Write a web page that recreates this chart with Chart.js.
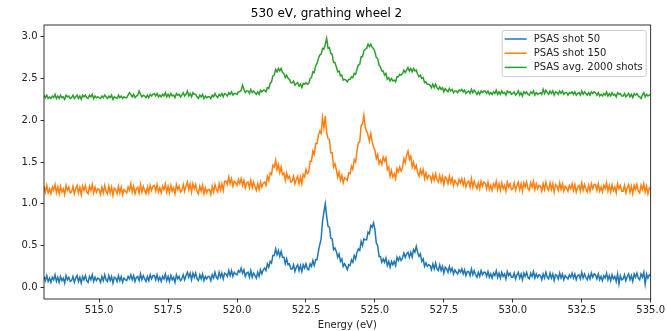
<!DOCTYPE html>
<html>
<head>
<meta charset="utf-8">
<script src="https://cdn.jsdelivr.net/npm/chart.js@4/dist/chart.umd.min.js"></script>
<style>
  body { margin: 0; background: #fff; }
  canvas { display: block; }
</style>
</head>
<body>
<canvas id="spectra" width="667" height="331"></canvas>
<script>
// energy axis (eV), 0.05 eV steps
const energy = [
  513.00, 513.05, 513.10, 513.15, 513.20, 513.25, 513.30, 513.35, 513.40, 513.45, 513.50, 513.55, 513.60, 513.65, 513.70, 513.75, 513.80, 513.85, 513.90, 513.95,
  514.00, 514.05, 514.10, 514.15, 514.20, 514.25, 514.30, 514.35, 514.40, 514.45, 514.50, 514.55, 514.60, 514.65, 514.70, 514.75, 514.80, 514.85, 514.90, 514.95,
  515.00, 515.05, 515.10, 515.15, 515.20, 515.25, 515.30, 515.35, 515.40, 515.45, 515.50, 515.55, 515.60, 515.65, 515.70, 515.75, 515.80, 515.85, 515.90, 515.95,
  516.00, 516.05, 516.10, 516.15, 516.20, 516.25, 516.30, 516.35, 516.40, 516.45, 516.50, 516.55, 516.60, 516.65, 516.70, 516.75, 516.80, 516.85, 516.90, 516.95,
  517.00, 517.05, 517.10, 517.15, 517.20, 517.25, 517.30, 517.35, 517.40, 517.45, 517.50, 517.55, 517.60, 517.65, 517.70, 517.75, 517.80, 517.85, 517.90, 517.95,
  518.00, 518.05, 518.10, 518.15, 518.20, 518.25, 518.30, 518.35, 518.40, 518.45, 518.50, 518.55, 518.60, 518.65, 518.70, 518.75, 518.80, 518.85, 518.90, 518.95,
  519.00, 519.05, 519.10, 519.15, 519.20, 519.25, 519.30, 519.35, 519.40, 519.45, 519.50, 519.55, 519.60, 519.65, 519.70, 519.75, 519.80, 519.85, 519.90, 519.95,
  520.00, 520.05, 520.10, 520.15, 520.20, 520.25, 520.30, 520.35, 520.40, 520.45, 520.50, 520.55, 520.60, 520.65, 520.70, 520.75, 520.80, 520.85, 520.90, 520.95,
  521.00, 521.05, 521.10, 521.15, 521.20, 521.25, 521.30, 521.35, 521.40, 521.45, 521.50, 521.55, 521.60, 521.65, 521.70, 521.75, 521.80, 521.85, 521.90, 521.95,
  522.00, 522.05, 522.10, 522.15, 522.20, 522.25, 522.30, 522.35, 522.40, 522.45, 522.50, 522.55, 522.60, 522.65, 522.70, 522.75, 522.80, 522.85, 522.90, 522.95,
  523.00, 523.05, 523.10, 523.15, 523.20, 523.25, 523.30, 523.35, 523.40, 523.45, 523.50, 523.55, 523.60, 523.65, 523.70, 523.75, 523.80, 523.85, 523.90, 523.95,
  524.00, 524.05, 524.10, 524.15, 524.20, 524.25, 524.30, 524.35, 524.40, 524.45, 524.50, 524.55, 524.60, 524.65, 524.70, 524.75, 524.80, 524.85, 524.90, 524.95,
  525.00, 525.05, 525.10, 525.15, 525.20, 525.25, 525.30, 525.35, 525.40, 525.45, 525.50, 525.55, 525.60, 525.65, 525.70, 525.75, 525.80, 525.85, 525.90, 525.95,
  526.00, 526.05, 526.10, 526.15, 526.20, 526.25, 526.30, 526.35, 526.40, 526.45, 526.50, 526.55, 526.60, 526.65, 526.70, 526.75, 526.80, 526.85, 526.90, 526.95,
  527.00, 527.05, 527.10, 527.15, 527.20, 527.25, 527.30, 527.35, 527.40, 527.45, 527.50, 527.55, 527.60, 527.65, 527.70, 527.75, 527.80, 527.85, 527.90, 527.95,
  528.00, 528.05, 528.10, 528.15, 528.20, 528.25, 528.30, 528.35, 528.40, 528.45, 528.50, 528.55, 528.60, 528.65, 528.70, 528.75, 528.80, 528.85, 528.90, 528.95,
  529.00, 529.05, 529.10, 529.15, 529.20, 529.25, 529.30, 529.35, 529.40, 529.45, 529.50, 529.55, 529.60, 529.65, 529.70, 529.75, 529.80, 529.85, 529.90, 529.95,
  530.00, 530.05, 530.10, 530.15, 530.20, 530.25, 530.30, 530.35, 530.40, 530.45, 530.50, 530.55, 530.60, 530.65, 530.70, 530.75, 530.80, 530.85, 530.90, 530.95,
  531.00, 531.05, 531.10, 531.15, 531.20, 531.25, 531.30, 531.35, 531.40, 531.45, 531.50, 531.55, 531.60, 531.65, 531.70, 531.75, 531.80, 531.85, 531.90, 531.95,
  532.00, 532.05, 532.10, 532.15, 532.20, 532.25, 532.30, 532.35, 532.40, 532.45, 532.50, 532.55, 532.60, 532.65, 532.70, 532.75, 532.80, 532.85, 532.90, 532.95,
  533.00, 533.05, 533.10, 533.15, 533.20, 533.25, 533.30, 533.35, 533.40, 533.45, 533.50, 533.55, 533.60, 533.65, 533.70, 533.75, 533.80, 533.85, 533.90, 533.95,
  534.00, 534.05, 534.10, 534.15, 534.20, 534.25, 534.30, 534.35, 534.40, 534.45, 534.50, 534.55, 534.60, 534.65, 534.70, 534.75, 534.80, 534.85, 534.90, 534.95,
  535.00
];

// single shot 50
const shot50 = [
  0.13, 0.08, 0.14, 0.07, 0.11, 0.06, 0.12, 0.09, 0.15, 0.07, 0.12, 0.06, 0.13, 0.08, 0.11, 0.05, 0.14, 0.09, 0.12, 0.07,
  0.08, 0.13, 0.06, 0.11, 0.14, 0.07, 0.12, 0.05, 0.13, 0.09, 0.14, 0.08, 0.06, 0.13, 0.09, 0.15, 0.07, 0.12, 0.08, 0.11,
  0.10, 0.06, 0.13, 0.08, 0.15, 0.09, 0.07, 0.14, 0.08, 0.13, 0.05, 0.12, 0.11, 0.07, 0.14, 0.08, 0.13, 0.06, 0.11, 0.09,
  0.08, 0.13, 0.10, 0.15, 0.09, 0.14, 0.07, 0.12, 0.13, 0.08, 0.16, 0.09, 0.14, 0.10, 0.07, 0.13, 0.08, 0.15, 0.10, 0.14,
  0.14, 0.09, 0.15, 0.08, 0.12, 0.07, 0.13, 0.10, 0.16, 0.08, 0.13, 0.07, 0.14, 0.09, 0.12, 0.06, 0.15, 0.10, 0.13, 0.08,
  0.10, 0.15, 0.09, 0.14, 0.18, 0.12, 0.17, 0.09, 0.17, 0.12, 0.17, 0.10, 0.08, 0.15, 0.10, 0.16, 0.08, 0.13, 0.10, 0.13,
  0.13, 0.08, 0.15, 0.11, 0.18, 0.12, 0.10, 0.18, 0.12, 0.17, 0.10, 0.17, 0.16, 0.13, 0.20, 0.14, 0.20, 0.13, 0.18, 0.16,
  0.15, 0.20, 0.18, 0.23, 0.17, 0.21, 0.13, 0.17, 0.18, 0.12, 0.20, 0.12, 0.17, 0.14, 0.11, 0.18, 0.13, 0.21, 0.16, 0.21,
  0.23, 0.20, 0.28, 0.24, 0.31, 0.29, 0.38, 0.38, 0.46, 0.39, 0.44, 0.37, 0.43, 0.36, 0.36, 0.28, 0.34, 0.27, 0.28, 0.22,
  0.22, 0.27, 0.19, 0.24, 0.27, 0.20, 0.26, 0.19, 0.27, 0.23, 0.28, 0.22, 0.21, 0.28, 0.25, 0.32, 0.26, 0.33, 0.33, 0.43,
  0.51, 0.58, 0.79, 0.90, 1.00, 0.85, 0.73, 0.72, 0.59, 0.58, 0.45, 0.47, 0.43, 0.36, 0.40, 0.31, 0.34, 0.25, 0.28, 0.25,
  0.21, 0.27, 0.26, 0.33, 0.30, 0.38, 0.34, 0.42, 0.46, 0.44, 0.55, 0.50, 0.58, 0.57, 0.57, 0.66, 0.64, 0.74, 0.72, 0.77,
  0.69, 0.53, 0.50, 0.37, 0.37, 0.30, 0.34, 0.30, 0.35, 0.26, 0.31, 0.24, 0.31, 0.27, 0.31, 0.26, 0.36, 0.32, 0.36, 0.32,
  0.35, 0.41, 0.36, 0.40, 0.42, 0.36, 0.42, 0.36, 0.45, 0.42, 0.49, 0.42, 0.37, 0.40, 0.31, 0.34, 0.25, 0.29, 0.25, 0.27,
  0.26, 0.21, 0.28, 0.22, 0.29, 0.22, 0.20, 0.27, 0.20, 0.25, 0.17, 0.24, 0.22, 0.18, 0.25, 0.19, 0.23, 0.16, 0.21, 0.18,
  0.16, 0.21, 0.18, 0.22, 0.16, 0.21, 0.14, 0.19, 0.19, 0.14, 0.22, 0.15, 0.20, 0.15, 0.12, 0.18, 0.13, 0.20, 0.15, 0.18,
  0.18, 0.13, 0.19, 0.12, 0.16, 0.11, 0.17, 0.14, 0.20, 0.12, 0.17, 0.11, 0.18, 0.13, 0.16, 0.10, 0.19, 0.14, 0.17, 0.12,
  0.12, 0.17, 0.10, 0.15, 0.18, 0.11, 0.16, 0.09, 0.17, 0.13, 0.18, 0.12, 0.10, 0.17, 0.13, 0.19, 0.11, 0.16, 0.12, 0.15,
  0.14, 0.09, 0.16, 0.11, 0.18, 0.12, 0.10, 0.17, 0.11, 0.16, 0.08, 0.15, 0.14, 0.10, 0.17, 0.11, 0.16, 0.09, 0.14, 0.12,
  0.10, 0.15, 0.12, 0.17, 0.11, 0.16, 0.09, 0.14, 0.15, 0.10, 0.18, 0.11, 0.16, 0.12, 0.09, 0.15, 0.10, 0.17, 0.12, 0.16,
  0.15, 0.10, 0.16, 0.09, 0.13, 0.08, 0.14, 0.11, 0.17, 0.09, 0.14, 0.08, 0.15, 0.10, 0.13, 0.07, 0.16, 0.04, 0.14, 0.09,
  0.10, 0.15, 0.08, 0.13, 0.16, 0.09, 0.14, 0.07, 0.16, 0.12, 0.17, 0.11, 0.09, 0.16, 0.12, 0.18, 0.04, 0.16, 0.11, 0.15,
  0.14
];

// single shot 150
const shot150 = [
  1.21, 1.14, 1.22, 1.13, 1.18, 1.12, 1.20, 1.16, 1.23, 1.13, 1.20, 1.12, 1.21, 1.14, 1.18, 1.11, 1.22, 1.16, 1.20, 1.13,
  1.14, 1.21, 1.12, 1.18, 1.22, 1.13, 1.20, 1.11, 1.21, 1.16, 1.22, 1.14, 1.12, 1.21, 1.16, 1.23, 1.13, 1.20, 1.14, 1.18,
  1.17, 1.11, 1.20, 1.13, 1.22, 1.15, 1.12, 1.21, 1.13, 1.20, 1.10, 1.19, 1.17, 1.12, 1.21, 1.13, 1.20, 1.11, 1.17, 1.15,
  1.13, 1.20, 1.16, 1.24, 1.14, 1.21, 1.12, 1.18, 1.20, 1.13, 1.23, 1.14, 1.21, 1.16, 1.12, 1.20, 1.13, 1.22, 1.16, 1.21,
  1.22, 1.15, 1.23, 1.14, 1.19, 1.13, 1.21, 1.17, 1.24, 1.14, 1.21, 1.13, 1.22, 1.15, 1.19, 1.12, 1.23, 1.17, 1.21, 1.14,
  1.16, 1.23, 1.15, 1.21, 1.26, 1.17, 1.24, 1.14, 1.24, 1.18, 1.23, 1.15, 1.12, 1.21, 1.15, 1.22, 1.12, 1.19, 1.13, 1.17,
  1.17, 1.11, 1.21, 1.14, 1.23, 1.17, 1.14, 1.24, 1.16, 1.24, 1.16, 1.27, 1.27, 1.23, 1.32, 1.24, 1.30, 1.21, 1.27, 1.25,
  1.22, 1.29, 1.24, 1.30, 1.22, 1.28, 1.19, 1.25, 1.26, 1.19, 1.28, 1.19, 1.26, 1.21, 1.16, 1.24, 1.17, 1.26, 1.20, 1.25,
  1.26, 1.22, 1.33, 1.28, 1.37, 1.35, 1.46, 1.44, 1.52, 1.41, 1.47, 1.37, 1.44, 1.35, 1.37, 1.28, 1.37, 1.30, 1.33, 1.26,
  1.27, 1.33, 1.24, 1.29, 1.33, 1.24, 1.32, 1.24, 1.35, 1.32, 1.41, 1.36, 1.38, 1.51, 1.51, 1.63, 1.59, 1.72, 1.72, 1.82,
  1.87, 1.84, 2.03, 1.91, 2.05, 1.85, 1.78, 1.77, 1.61, 1.61, 1.44, 1.48, 1.41, 1.32, 1.38, 1.28, 1.34, 1.25, 1.31, 1.30,
  1.28, 1.37, 1.36, 1.45, 1.41, 1.53, 1.50, 1.63, 1.73, 1.74, 1.94, 1.95, 2.06, 1.91, 1.87, 1.82, 1.75, 1.84, 1.74, 1.68,
  1.64, 1.54, 1.59, 1.48, 1.52, 1.47, 1.56, 1.51, 1.55, 1.41, 1.44, 1.33, 1.40, 1.32, 1.36, 1.30, 1.42, 1.38, 1.44, 1.39,
  1.43, 1.54, 1.49, 1.58, 1.63, 1.53, 1.57, 1.44, 1.50, 1.42, 1.46, 1.37, 1.33, 1.41, 1.35, 1.41, 1.30, 1.37, 1.30, 1.34,
  1.33, 1.27, 1.35, 1.28, 1.36, 1.29, 1.26, 1.34, 1.26, 1.33, 1.23, 1.32, 1.30, 1.24, 1.33, 1.25, 1.31, 1.22, 1.28, 1.25,
  1.22, 1.29, 1.25, 1.30, 1.22, 1.29, 1.20, 1.25, 1.27, 1.20, 1.30, 1.20, 1.27, 1.22, 1.18, 1.25, 1.18, 1.27, 1.21, 1.26,
  1.25, 1.18, 1.26, 1.17, 1.22, 1.16, 1.24, 1.20, 1.27, 1.17, 1.24, 1.16, 1.25, 1.18, 1.22, 1.15, 1.26, 1.20, 1.24, 1.17,
  1.18, 1.25, 1.16, 1.22, 1.26, 1.17, 1.24, 1.15, 1.25, 1.20, 1.26, 1.18, 1.16, 1.25, 1.20, 1.27, 1.17, 1.24, 1.18, 1.22,
  1.21, 1.15, 1.24, 1.17, 1.26, 1.19, 1.16, 1.25, 1.17, 1.24, 1.14, 1.23, 1.21, 1.16, 1.25, 1.17, 1.24, 1.15, 1.21, 1.19,
  1.15, 1.22, 1.18, 1.24, 1.16, 1.23, 1.14, 1.20, 1.22, 1.15, 1.25, 1.16, 1.23, 1.18, 1.14, 1.22, 1.15, 1.24, 1.18, 1.23,
  1.23, 1.16, 1.24, 1.15, 1.20, 1.14, 1.22, 1.18, 1.25, 1.15, 1.22, 1.14, 1.23, 1.16, 1.20, 1.13, 1.24, 1.18, 1.22, 1.15,
  1.15, 1.22, 1.13, 1.19, 1.23, 1.14, 1.21, 1.12, 1.22, 1.17, 1.23, 1.15, 1.13, 1.22, 1.17, 1.24, 1.14, 1.21, 1.12, 1.19,
  1.17
];

// average over 2000 shots
const avg2000 = [
  2.30, 2.27, 2.30, 2.26, 2.28, 2.26, 2.29, 2.27, 2.31, 2.26, 2.29, 2.26, 2.30, 2.27, 2.28, 2.25, 2.30, 2.28, 2.29, 2.26,
  2.27, 2.30, 2.26, 2.28, 2.30, 2.26, 2.29, 2.25, 2.30, 2.28, 2.30, 2.27, 2.26, 2.30, 2.28, 2.31, 2.26, 2.29, 2.27, 2.28,
  2.27, 2.26, 2.29, 2.27, 2.30, 2.28, 2.26, 2.29, 2.27, 2.30, 2.25, 2.28, 2.27, 2.26, 2.30, 2.27, 2.29, 2.26, 2.28, 2.27,
  2.27, 2.30, 2.33, 2.31, 2.28, 2.31, 2.27, 2.29, 2.30, 2.35, 2.31, 2.28, 2.30, 2.29, 2.27, 2.30, 2.27, 2.31, 2.29, 2.31,
  2.32, 2.29, 2.32, 2.28, 2.30, 2.28, 2.31, 2.29, 2.33, 2.28, 2.31, 2.28, 2.32, 2.29, 2.30, 2.27, 2.32, 2.30, 2.31, 2.28,
  2.30, 2.33, 2.29, 2.31, 2.35, 2.29, 2.32, 2.28, 2.33, 2.31, 2.31, 2.28, 2.26, 2.30, 2.28, 2.31, 2.26, 2.29, 2.27, 2.28,
  2.28, 2.26, 2.30, 2.28, 2.32, 2.29, 2.27, 2.31, 2.29, 2.32, 2.28, 2.32, 2.31, 2.29, 2.33, 2.31, 2.34, 2.30, 2.32, 2.32,
  2.31, 2.34, 2.34, 2.36, 2.42, 2.37, 2.33, 2.35, 2.35, 2.32, 2.37, 2.33, 2.35, 2.33, 2.31, 2.34, 2.31, 2.36, 2.34, 2.36,
  2.36, 2.34, 2.39, 2.38, 2.44, 2.46, 2.53, 2.54, 2.61, 2.58, 2.62, 2.59, 2.62, 2.57, 2.56, 2.51, 2.54, 2.50, 2.49, 2.45,
  2.45, 2.47, 2.42, 2.44, 2.45, 2.41, 2.43, 2.39, 2.44, 2.43, 2.45, 2.43, 2.44, 2.50, 2.51, 2.58, 2.57, 2.65, 2.68, 2.74,
  2.78, 2.79, 2.86, 2.85, 2.91, 2.98, 2.86, 2.87, 2.80, 2.79, 2.69, 2.69, 2.64, 2.58, 2.59, 2.53, 2.54, 2.48, 2.49, 2.48,
  2.46, 2.49, 2.49, 2.52, 2.51, 2.56, 2.55, 2.61, 2.66, 2.67, 2.76, 2.76, 2.83, 2.85, 2.86, 2.91, 2.88, 2.91, 2.87, 2.86,
  2.82, 2.75, 2.74, 2.66, 2.64, 2.59, 2.59, 2.54, 2.56, 2.49, 2.51, 2.47, 2.50, 2.47, 2.48, 2.46, 2.52, 2.52, 2.55, 2.54,
  2.56, 2.60, 2.57, 2.60, 2.63, 2.59, 2.62, 2.58, 2.62, 2.59, 2.60, 2.55, 2.52, 2.54, 2.50, 2.51, 2.45, 2.46, 2.43, 2.43,
  2.42, 2.39, 2.43, 2.39, 2.43, 2.39, 2.37, 2.40, 2.37, 2.39, 2.34, 2.38, 2.36, 2.34, 2.38, 2.35, 2.37, 2.33, 2.35, 2.35,
  2.33, 2.36, 2.35, 2.37, 2.34, 2.36, 2.32, 2.34, 2.35, 2.32, 2.37, 2.33, 2.36, 2.34, 2.31, 2.34, 2.31, 2.35, 2.33, 2.35,
  2.35, 2.32, 2.35, 2.31, 2.33, 2.31, 2.34, 2.32, 2.36, 2.31, 2.34, 2.31, 2.35, 2.32, 2.33, 2.30, 2.35, 2.33, 2.34, 2.31,
  2.32, 2.34, 2.30, 2.32, 2.35, 2.30, 2.33, 2.29, 2.34, 2.32, 2.34, 2.31, 2.30, 2.34, 2.32, 2.35, 2.30, 2.33, 2.31, 2.32,
  2.33, 2.31, 2.37, 2.32, 2.36, 2.33, 2.31, 2.35, 2.32, 2.35, 2.30, 2.34, 2.33, 2.31, 2.35, 2.32, 2.35, 2.31, 2.33, 2.33,
  2.30, 2.33, 2.32, 2.34, 2.31, 2.34, 2.30, 2.32, 2.33, 2.30, 2.35, 2.31, 2.34, 2.32, 2.30, 2.33, 2.30, 2.34, 2.32, 2.34,
  2.33, 2.30, 2.33, 2.29, 2.31, 2.29, 2.32, 2.30, 2.34, 2.29, 2.32, 2.29, 2.33, 2.30, 2.31, 2.28, 2.33, 2.31, 2.32, 2.29,
  2.29, 2.32, 2.28, 2.30, 2.32, 2.28, 2.31, 2.27, 2.32, 2.30, 2.32, 2.29, 2.28, 2.26, 2.30, 2.33, 2.28, 2.31, 2.29, 2.30,
  2.31
];

const seriesNames = ['PSAS shot 50', 'PSAS shot 150', 'PSAS avg. 2000 shots'];
const seriesColors = ['#1f77b4', '#ff7f0e', '#2ca02c'];

const FONT = "'DejaVu Sans', sans-serif";

// box around the plot + legend in the upper right corner
const framePlugin = {
  id: 'frame',
  afterDraw(chart) {
    const { ctx, chartArea: a } = chart;
    ctx.save();
    ctx.strokeStyle = '#000';
    ctx.lineWidth = 0.8;
    ctx.strokeRect(a.left, a.top, a.right - a.left, a.bottom - a.top);

    const boxW = 144, boxH = 46;
    const bx = a.right - 5 - boxW, by = a.top + 5;
    ctx.fillStyle = 'rgba(255,255,255,0.8)';
    ctx.strokeStyle = '#cccccc';
    ctx.lineWidth = 1;
    ctx.beginPath();
    ctx.roundRect(bx + 0.5, by + 0.5, boxW, boxH, 2);
    ctx.fill();
    ctx.stroke();

    ctx.font = '10px ' + FONT;
    ctx.textBaseline = 'middle';
    ctx.textAlign = 'left';
    chart.data.datasets.forEach((ds, i) => {
      const y = by + 9 + i * 14.2;
      ctx.strokeStyle = ds.borderColor;
      ctx.lineWidth = 1.5;
      ctx.beginPath();
      ctx.moveTo(bx + 3, y);
      ctx.lineTo(bx + 25, y);
      ctx.stroke();
      ctx.fillStyle = '#222';
      ctx.fillText(ds.label, bx + 32, y);
    });
    ctx.restore();
  }
};

const datasets = [shot50, shot150, avg2000].map((vals, i) => ({
  label: seriesNames[i],
  data: vals,
  borderColor: seriesColors[i],
  backgroundColor: seriesColors[i],
  borderWidth: 1.5,
  pointRadius: 0,
  tension: 0,
  fill: false
}));

new Chart(document.getElementById('spectra'), {
  type: 'line',
  data: { labels: energy, datasets },
  plugins: [framePlugin],
  options: {
    responsive: false,
    animation: false,
    events: [],
    layout: { padding: { left: 0, right: 14, top: 0, bottom: 0 } },
    plugins: {
      legend: { display: false },
      tooltip: { enabled: false },
      title: {
        display: true,
        text: '530 eV, grathing wheel 2',
        color: '#000',
        font: { family: FONT, size: 12, weight: 'normal' },
        padding: { top: 7, bottom: 3.6 }
      }
    },
    scales: {
      x: {
        type: 'linear',
        min: 513,
        max: 535,
        afterFit(scale) { scale.height = 32; },
        border: { display: false },
        grid: { drawOnChartArea: false, drawTicks: true, tickLength: 3.5, tickWidth: 0.8, tickColor: '#000' },
        ticks: {
          stepSize: 2.5,
          includeBounds: false,
          autoSkip: false,
          maxRotation: 0,
          padding: 2,
          color: '#222',
          font: { family: FONT, size: 10 },
          callback: v => v.toFixed(1)
        },
        title: {
          display: true,
          text: 'Energy (eV)',
          color: '#222',
          font: { family: FONT, size: 10 },
          padding: { top: 0, bottom: 0 }
        }
      },
      y: {
        min: -0.14,
        max: 3.14,
        afterFit(scale) { scale.width = 44; },
        border: { display: false },
        grid: { drawOnChartArea: false, drawTicks: true, tickLength: 3.5, tickWidth: 0.8, tickColor: '#000' },
        ticks: {
          stepSize: 0.5,
          includeBounds: false,
          padding: 3,
          color: '#222',
          font: { family: FONT, size: 10 },
          callback: v => v.toFixed(1)
        }
      }
    }
  }
});
</script>
</body>
</html>
